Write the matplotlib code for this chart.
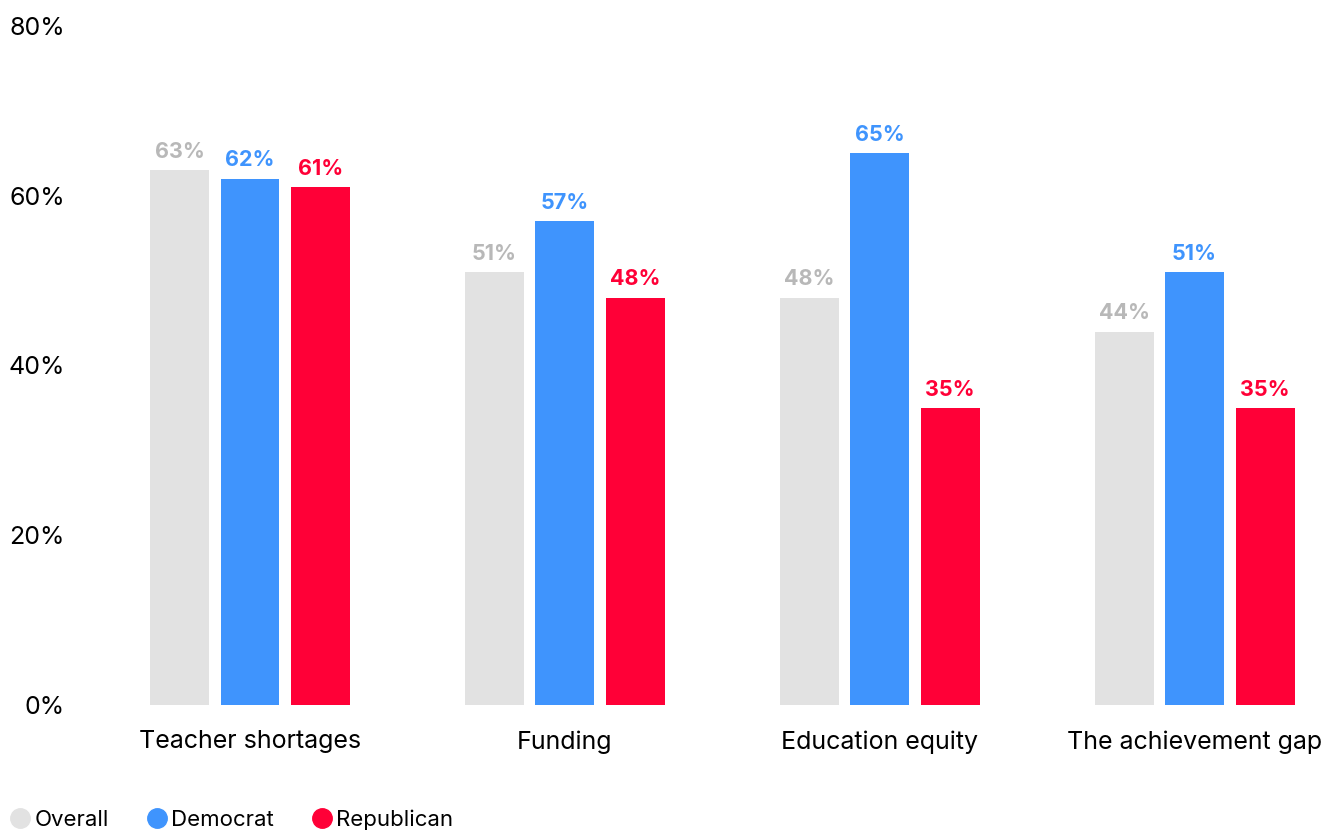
import numpy as np
import matplotlib.pyplot as plt
from matplotlib.lines import Line2D

plt.rcParams['font.family'] = ['Inter', 'DejaVu Sans']

categories = ['Teacher shortages', 'Funding', 'Education equity', 'The achievement gap']
series = ['Overall', 'Democrat', 'Republican']
overall = [63, 51, 48, 44]
democrat = [62, 57, 65, 51]
republican = [61, 48, 35, 35]
yticks = [0, 20, 40, 60, 80]

colors = ['#e2e2e2', '#3f94fd', '#ff0037']
label_colors = ['#b8b8b8', '#3f94fd', '#ff0037']
offsets = [-0.224, 0.0, 0.224]
width = 0.187

fig = plt.figure(figsize=(13.39, 8.31), dpi=100)
ax = fig.add_axes([80/1339, 126/831, 1250/1339, 679/831])

x = np.arange(len(categories))
for vals, off, c, lc in zip([overall, democrat, republican], offsets, colors, label_colors):
    bars = ax.bar(x + off, vals, width=width, color=c)
    for b, v in zip(bars, vals):
        ax.annotate(f'{v}%', (b.get_x() + b.get_width()/2, v), xytext=(0, 6),
                    textcoords='offset points', ha='center', va='bottom',
                    fontsize=15.5, fontweight='bold', color=lc)

ax.set_xlim(-0.54, 3.43)
ax.set_ylim(0, 80)
ax.set_yticks(yticks)
ax.set_yticklabels([f'{t}%' for t in yticks], fontsize=18)
ax.set_xticks(x)
ax.set_xticklabels(categories, fontsize=18)
ax.tick_params(axis='both', length=0)
ax.tick_params(axis='y', pad=11)
ax.tick_params(axis='x', pad=18)
for s in ax.spines.values():
    s.set_visible(False)

handles = [Line2D([], [], marker='o', linestyle='', markersize=14, color=c) for c in colors]
fig.legend(handles, series, loc='lower left', bbox_to_anchor=(-0.003, -0.0145), ncol=3,
           frameon=False, fontsize=16, handletextpad=0.15, columnspacing=1.65,
           handlelength=1.0, borderaxespad=0.2)

fig.savefig('out.png', dpi=100)
